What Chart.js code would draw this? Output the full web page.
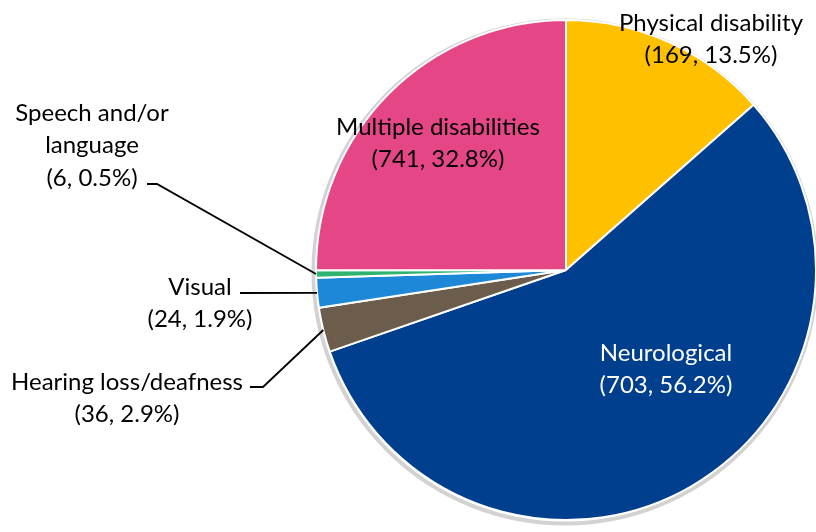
<!DOCTYPE html>
<html>
<head>
<meta charset="utf-8">
<script src="https://cdn.jsdelivr.net/npm/chart.js@4/dist/chart.umd.min.js"></script>
<style>
  html, body { margin: 0; padding: 0; background: #fff; }
  #pie { display: block; }
</style>
</head>
<body>
<canvas id="pie" width="816" height="532"></canvas>
<script>
// Chart data
const categories = ['Physical disability', 'Neurological', 'Hearing loss/deafness', 'Visual', 'Speech and/or language', 'Multiple disabilities'];
const counts = [169, 703, 36, 24, 6, 741];
const percents = [13.5, 56.2, 2.9, 1.9, 0.5, 32.8];
// slice sizes as drawn in the source (multiple disabilities is drawn as a quarter)
const sliceSizes = [169, 703, 36, 24, 6, 313];
const sliceColors = ['#FFC000', '#003E8E', '#6B5C4B', '#1E88D8', '#2EB46E', '#E54686'];

// Label layout: text lines, centre of first line, colour, optional leader elbow
const labelLayout = [
    { lines: ['Physical disability'], x: 711, y: 23, color: '#000' },
    { lines: ['Neurological'], x: 666, y: 353, color: '#fff' },
    { lines: ['Hearing loss/deafness'], x: 127, y: 382, color: '#000', leader: [[250, 387], [263, 387]] },
    { lines: ['Visual'], x: 200, y: 287, color: '#000', leader: [[240, 293]] },
    { lines: ['Speech and/or'], x: 92, y: 113, color: '#000', extra: ['language'], leader: [[147, 184], [157, 184]] },
    { lines: ['Multiple disabilities'], x: 438, y: 127, color: '#000' }
];
const FONT = '24px Lato';
const LINE_GAP = 32.5;

// Light grey rim (shadow) behind the pie
const rimPlugin = {
    id: 'rim',
    beforeDatasetsDraw(chart) {
        const arc = chart.getDatasetMeta(0).data[0];
        if (!arc) return;
        const ctx = chart.ctx;
        ctx.save();
        ctx.beginPath();
        ctx.arc(arc.x - 1, arc.y + 2, arc.outerRadius + 1.5, 0, Math.PI * 2);
        ctx.strokeStyle = '#d2d2d2';
        ctx.lineWidth = 4;
        ctx.stroke();
        ctx.restore();
    }
};

// Data labels and leader lines
const labelPlugin = {
    id: 'pieLabels',
    afterDatasetsDraw(chart) {
        const ctx = chart.ctx;
        const arcs = chart.getDatasetMeta(0).data;
        ctx.save();
        ctx.font = FONT;
        ctx.textAlign = 'center';
        ctx.textBaseline = 'middle';
        labelLayout.forEach((lab, i) => {
            const lines = lab.lines.concat(lab.extra || [], ['(' + counts[i] + ', ' + percents[i].toFixed(1) + '%)']);
            ctx.fillStyle = lab.color;
            lines.forEach((t, k) => ctx.fillText(t, lab.x, lab.y + k * LINE_GAP));

            if (lab.leader) {
                const a = arcs[i];
                const mid = (a.startAngle + a.endAngle) / 2;
                const ex = a.x + Math.cos(mid) * a.outerRadius;
                const ey = a.y + Math.sin(mid) * a.outerRadius;
                ctx.beginPath();
                ctx.moveTo(lab.leader[0][0], lab.leader[0][1]);
                lab.leader.slice(1).forEach(p => ctx.lineTo(p[0], p[1]));
                ctx.lineTo(ex, ey);
                ctx.strokeStyle = '#000';
                ctx.lineWidth = 1.8;
                ctx.stroke();
            }
        });
        ctx.restore();
    }
};

new Chart(document.getElementById('pie').getContext('2d'), {
    type: 'pie',
    data: {
        labels: categories,
        datasets: [{
            data: sliceSizes,
            backgroundColor: sliceColors,
            borderColor: '#ffffff',
            borderWidth: 2,
            radius: 250
        }]
    },
    options: {
        responsive: false,
        animation: false,
        layout: { padding: { left: 316, top: 20, right: 0, bottom: 12 } },
        plugins: {
            legend: { display: false },
            tooltip: { enabled: false }
        }
    },
    plugins: [rimPlugin, labelPlugin]
});
</script>
</body>
</html>
